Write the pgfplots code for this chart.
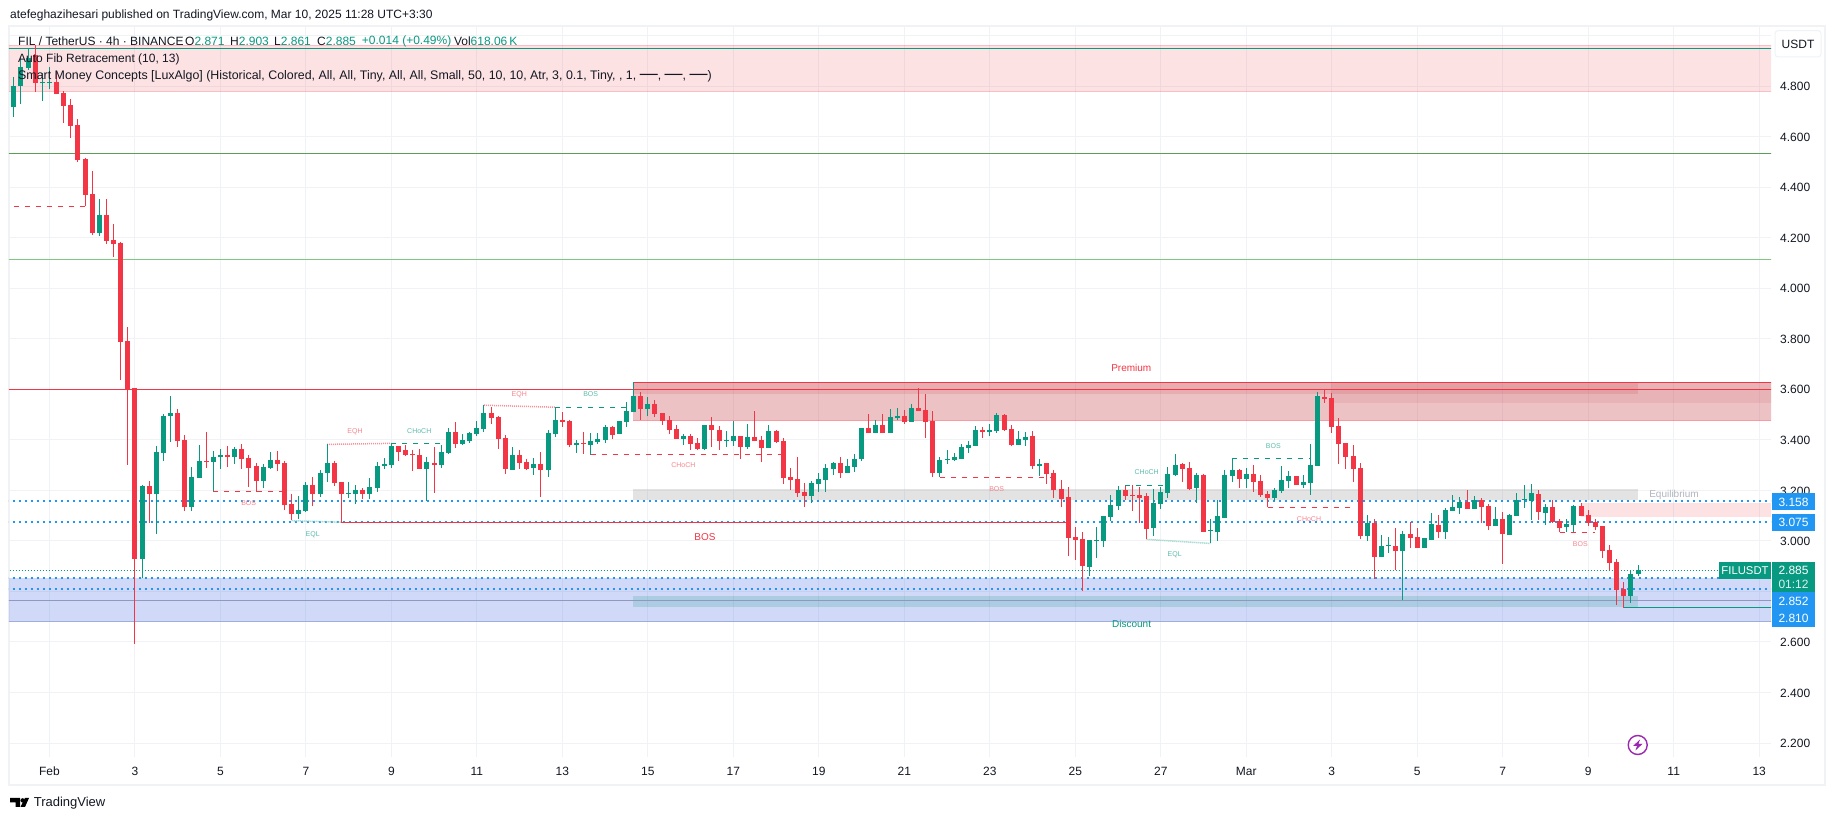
\documentclass[border=0pt]{standalone}
\usepackage{fontspec}
\setmainfont{Liberation Sans}
\usepackage{pgfplots}
\usepackage{pgfplotstable}
\pgfplotsset{compat=1.18}

\definecolor{tvgreen}{HTML}{089981}
\definecolor{tvred}{HTML}{F23645}
\definecolor{tvblue}{HTML}{2196F3}
\definecolor{tvink}{HTML}{131722}
\definecolor{gridc}{HTML}{F0F2F5}
\definecolor{zonered}{HTML}{C53740}
\definecolor{zoneblue}{HTML}{2850E0}

% n open high low close; n counts 4h candles from Feb 1
\pgfplotstableread{
n o h l c
-5 4.718 4.834 4.679 4.800
-4 4.800 4.910 4.729 4.877
-3 4.873 4.945 4.864 4.910
-1 4.811 4.850 4.742 4.815
0 4.811 4.874 4.787 4.815
7 4.220 4.353 4.208 4.290
13 2.928 3.221 2.852 3.217
15 3.186 3.376 3.029 3.352
16 3.349 3.502 3.318 3.494
17 3.494 3.574 3.393 3.506
20 3.134 3.292 3.118 3.253
21 3.249 3.380 3.249 3.316
23 3.312 3.356 3.196 3.332
24 3.332 3.364 3.285 3.340
26 3.332 3.372 3.304 3.364
30 3.237 3.304 3.209 3.292
31 3.289 3.352 3.285 3.320
35 3.106 3.178 3.087 3.122
36 3.118 3.233 3.114 3.221
38 3.186 3.281 3.174 3.269
39 3.269 3.384 3.233 3.308
42 3.186 3.233 3.170 3.190
43 3.186 3.221 3.146 3.201
45 3.186 3.249 3.166 3.213
46 3.209 3.312 3.194 3.296
47 3.296 3.328 3.285 3.304
48 3.300 3.386 3.289 3.376
53 3.285 3.332 3.158 3.312
55 3.300 3.380 3.289 3.352
56 3.348 3.447 3.344 3.431
58 3.384 3.423 3.380 3.399
59 3.395 3.431 3.387 3.427
60 3.423 3.475 3.415 3.447
61 3.443 3.538 3.431 3.506
65 3.281 3.372 3.281 3.340
68 3.289 3.328 3.261 3.304
70 3.281 3.439 3.253 3.427
71 3.423 3.530 3.411 3.478
74 3.380 3.399 3.348 3.387
76 3.380 3.427 3.341 3.395
77 3.391 3.427 3.384 3.403
78 3.399 3.459 3.387 3.451
80 3.423 3.475 3.423 3.475
81 3.471 3.550 3.451 3.514
82 3.510 3.629 3.510 3.574
84 3.522 3.570 3.494 3.542
89 3.403 3.423 3.380 3.415
92 3.364 3.459 3.360 3.459
95 3.395 3.435 3.372 3.399
96 3.395 3.475 3.376 3.415
98 3.372 3.463 3.364 3.411
101 3.368 3.459 3.368 3.435
107 3.178 3.237 3.150 3.229
108 3.225 3.269 3.194 3.245
109 3.241 3.304 3.194 3.289
110 3.285 3.312 3.261 3.308
112 3.269 3.324 3.269 3.296
113 3.292 3.344 3.273 3.324
114 3.324 3.447 3.316 3.447
116 3.427 3.478 3.427 3.459
118 3.427 3.522 3.427 3.490
119 3.486 3.526 3.478 3.494
121 3.471 3.542 3.471 3.526
125 3.269 3.332 3.253 3.320
126 3.320 3.360 3.304 3.324
127 3.320 3.348 3.316 3.332
128 3.324 3.384 3.324 3.372
129 3.368 3.395 3.348 3.380
130 3.376 3.455 3.376 3.439
132 3.431 3.463 3.415 3.439
133 3.435 3.506 3.427 3.498
136 3.380 3.435 3.380 3.403
137 3.399 3.431 3.376 3.411
139 3.296 3.324 3.257 3.304
146 2.897 3.004 2.861 3.004
147 3.000 3.055 2.932 3.004
148 3.000 3.099 2.976 3.099
149 3.095 3.182 3.079 3.142
150 3.138 3.217 3.122 3.201
155 3.051 3.205 3.019 3.150
156 3.146 3.213 3.126 3.194
157 3.190 3.292 3.170 3.265
158 3.261 3.344 3.257 3.300
161 3.209 3.269 3.150 3.261
163 3.039 3.087 2.990 3.043
164 3.035 3.162 3.000 3.099
165 3.091 3.281 3.091 3.261
166 3.257 3.327 3.233 3.281
168 3.245 3.289 3.209 3.265
172 3.170 3.209 3.158 3.201
173 3.197 3.296 3.190 3.241
174 3.237 3.277 3.209 3.257
176 3.221 3.261 3.209 3.233
177 3.229 3.384 3.182 3.300
178 3.296 3.589 3.296 3.574
185 3.019 3.103 3.000 3.071
187 2.936 3.023 2.936 2.980
188 2.980 3.015 2.952 2.984
190 2.960 3.039 2.766 3.027
193 2.972 3.012 2.972 3.012
194 3.004 3.110 3.004 3.067
196 3.035 3.130 3.008 3.122
197 3.118 3.182 3.118 3.134
198 3.130 3.174 3.106 3.154
200 3.126 3.178 3.126 3.162
203 3.059 3.134 3.059 3.087
205 3.023 3.106 3.023 3.103
206 3.099 3.190 3.099 3.162
207 3.162 3.221 3.130 3.166
208 3.158 3.225 3.083 3.190
210 3.110 3.146 3.063 3.134
213 3.055 3.087 3.035 3.067
214 3.063 3.142 3.034 3.138
222 2.782 2.885 2.754 2.869
223 2.871 2.905 2.861 2.885
}\upcandles

\pgfplotstableread{
n o h l c
-2 4.923 4.962 4.778 4.811
1 4.817 4.860 4.767 4.769
2 4.772 4.780 4.655 4.722
3 4.725 4.749 4.596 4.643
4 4.646 4.670 4.501 4.507
5 4.511 4.514 4.325 4.369
6 4.373 4.464 4.210 4.220
8 4.290 4.353 4.175 4.188
9 4.191 4.254 4.125 4.175
10 4.179 4.184 3.637 3.788
11 3.791 3.847 3.300 3.600
12 3.605 3.605 2.593 2.928
14 3.217 3.237 3.070 3.186
18 3.506 3.522 3.372 3.395
19 3.399 3.419 3.118 3.134
22 3.316 3.431 3.289 3.312
25 3.340 3.376 3.293 3.332
27 3.364 3.384 3.285 3.324
28 3.328 3.340 3.213 3.289
29 3.296 3.308 3.194 3.237
32 3.320 3.356 3.277 3.304
33 3.308 3.316 3.122 3.142
34 3.146 3.186 3.083 3.106
37 3.221 3.253 3.138 3.186
40 3.308 3.316 3.217 3.229
41 3.233 3.233 3.075 3.186
44 3.201 3.209 3.166 3.186
49 3.376 3.376 3.316 3.352
50 3.360 3.380 3.336 3.340
51 3.344 3.360 3.277 3.340
52 3.340 3.364 3.285 3.285
54 3.308 3.372 3.190 3.300
57 3.431 3.471 3.368 3.384
62 3.506 3.530 3.463 3.486
63 3.490 3.494 3.364 3.403
64 3.407 3.419 3.265 3.285
66 3.340 3.360 3.285 3.308
67 3.312 3.324 3.281 3.285
69 3.304 3.352 3.174 3.281
72 3.478 3.510 3.451 3.471
73 3.475 3.478 3.372 3.380
75 3.387 3.431 3.344 3.384
79 3.451 3.455 3.403 3.419
83 3.574 3.589 3.479 3.522
85 3.542 3.558 3.490 3.502
86 3.506 3.506 3.459 3.475
87 3.478 3.494 3.423 3.439
88 3.443 3.459 3.403 3.403
90 3.415 3.423 3.360 3.384
91 3.387 3.407 3.360 3.364
93 3.459 3.490 3.372 3.439
94 3.439 3.455 3.360 3.395
97 3.415 3.415 3.324 3.372
99 3.411 3.514 3.395 3.395
100 3.399 3.415 3.312 3.368
102 3.435 3.439 3.387 3.391
103 3.395 3.407 3.225 3.249
104 3.253 3.289 3.201 3.241
105 3.245 3.332 3.174 3.190
106 3.194 3.229 3.134 3.178
111 3.308 3.332 3.249 3.269
115 3.447 3.502 3.427 3.427
117 3.459 3.502 3.427 3.427
120 3.494 3.518 3.463 3.471
122 3.526 3.605 3.514 3.514
123 3.518 3.581 3.407 3.471
124 3.475 3.514 3.253 3.269
131 3.439 3.451 3.407 3.431
134 3.498 3.502 3.435 3.439
135 3.443 3.459 3.376 3.380
138 3.415 3.435 3.285 3.296
140 3.308 3.308 3.225 3.265
141 3.269 3.281 3.170 3.201
142 3.205 3.241 3.134 3.166
143 3.174 3.213 2.940 3.012
144 3.015 3.055 2.924 3.004
145 3.008 3.035 2.802 2.901
151 3.201 3.217 3.162 3.178
152 3.182 3.221 3.118 3.178
153 3.182 3.213 3.072 3.170
154 3.178 3.190 3.008 3.047
159 3.304 3.308 3.233 3.285
160 3.289 3.312 3.201 3.205
162 3.261 3.265 3.035 3.035
167 3.281 3.285 3.209 3.245
169 3.265 3.300 3.194 3.233
170 3.237 3.261 3.174 3.182
171 3.186 3.197 3.134 3.170
175 3.257 3.257 3.221 3.221
179 3.570 3.601 3.546 3.562
180 3.566 3.585 3.427 3.451
181 3.455 3.486 3.304 3.384
182 3.388 3.388 3.285 3.332
183 3.336 3.380 3.233 3.285
184 3.289 3.308 3.008 3.019
186 3.071 3.087 2.849 2.936
189 2.980 3.051 2.885 2.960
191 3.027 3.075 2.972 3.012
192 3.015 3.050 2.972 2.972
195 3.063 3.103 3.012 3.035
199 3.154 3.201 3.126 3.126
201 3.162 3.170 3.071 3.134
202 3.138 3.146 3.043 3.059
204 3.087 3.114 2.909 3.027
209 3.186 3.201 3.083 3.114
211 3.134 3.162 3.071 3.075
212 3.079 3.087 3.035 3.051
215 3.138 3.150 3.099 3.099
216 3.103 3.122 3.059 3.071
217 3.075 3.087 3.043 3.055
218 3.059 3.059 2.932 2.960
219 2.964 2.984 2.885 2.913
220 2.917 2.928 2.746 2.806
221 2.810 2.837 2.734 2.782
}\downcandles

\begin{document}
\begin{tikzpicture}
\useasboundingbox (0,0) rectangle (1835pt,821pt);
\fill[white] (0,0) rectangle (1835pt,821pt);
\draw[gridc, line width=2pt] (8.5pt,795pt) rectangle (1825pt,36pt);

\begin{axis}[
    name=chart,
    at={(9pt,64pt)}, anchor=south west,
    scale only axis,
    width=1762pt, height=731pt,
    xmin=-5.671, xmax=241.66,
    ymin=2.1449, ymax=5.0377,
    axis line style={draw=none},
    tick style={draw=none},
    grid=major,
    grid style={draw=gridc, line width=1pt},
    xtick={0,12,...,240},
    xticklabels={Feb,3,5,7,9,11,13,15,17,19,21,23,25,27,Mar,3,5,7,9,11,13},
    xticklabel style={font=\fontsize{12}{14}\selectfont, text=tvink, anchor=center, yshift=-14.7pt},
    ytick={2.2,2.4,...,5.01},
    yticklabels={2.200,2.400,2.600,2.800,3.000,3.200,3.400,3.600,3.800,4.000,4.200,4.400,4.600,4.800,},
    ytick pos=right,
    yticklabel pos=right,
    yticklabel style={font=\fontsize{12}{14}\selectfont, text=tvink, anchor=west, inner sep=0pt, xshift=9pt, yshift=-0.5pt},
]
% zones
\addplot[draw=none, fill=tvred, fill opacity=.14] coordinates {(-6,4.778)(242,4.778)(242,4.962)(-6,4.962)} -- cycle;
\addplot[draw=none, fill=zonered, fill opacity=.30] coordinates {(81.92,3.477)(242,3.477)(242,3.626)(81.92,3.626)} -- cycle;
\addplot[draw=none, fill=zonered, fill opacity=.10] coordinates {(179.9,3.547)(242,3.547)(242,3.626)(179.9,3.626)} -- cycle;
\addplot[draw=none, fill=zonered, fill opacity=.15] coordinates {(81.92,3.581)(223,3.581)(223,3.626)(81.92,3.626)} -- cycle;
\addplot[draw=none, fill=zoneblue, fill opacity=.21] coordinates {(-6,2.680)(242,2.680)(242,2.853)(-6,2.853)} -- cycle;
\addplot[draw=none, fill=tvgreen, fill opacity=.19] coordinates {(81.92,2.738)(223,2.738)(223,2.782)(81.92,2.782)} -- cycle;
\addplot[draw=none, fill=gray, fill opacity=.22] coordinates {(81.92,3.162)(223,3.162)(223,3.204)(81.92,3.204)} -- cycle;
\addplot[draw=none, fill=tvred, fill opacity=.14] coordinates {(215,3.096)(242,3.096)(242,3.149)(215,3.149)} -- cycle;
% zone edges
\addplot[tvred, opacity=.2, line width=1pt] coordinates {(-6,4.778)(242,4.778)};
\addplot[tvred, opacity=.2, line width=1pt] coordinates {(-6,4.962)(242,4.962)};
\addplot[tvred, opacity=.5, line width=1pt] coordinates {(81.92,3.477)(242,3.477)};
\addplot[tvred, line width=1pt] coordinates {(81.92,3.626)(242,3.626)};
\addplot[color={rgb,255:red,160;green,174;blue,220}, line width=1pt] coordinates {(-6,2.680)(242,2.680)};
\addplot[color={rgb,255:red,143;green,152;blue,192}, line width=1pt] coordinates {(-6,2.765)(242,2.765)};
% fib levels
\addplot[tvgreen, line width=1pt] coordinates {(-6,4.949)(242,4.949)};
\addplot[color={rgb,255:red,90;green,158;blue,90}, line width=1pt] coordinates {(-6,4.534)(242,4.534)};
\addplot[color={rgb,255:red,129;green,199;blue,132}, line width=1pt] coordinates {(-6,4.114)(242,4.114)};
\addplot[tvred, line width=1pt] coordinates {(-6,3.600)(242,3.600)};
% pivots
\addplot[tvblue, line width=2pt, dash pattern=on 2pt off 4pt] coordinates {(-6,3.158)(242,3.158)};
\addplot[tvblue, line width=2pt, dash pattern=on 2pt off 4pt] coordinates {(-6,3.075)(242,3.075)};
\addplot[tvblue, line width=2pt, dash pattern=on 2pt off 4pt] coordinates {(-6,2.853)(242,2.853)};
\addplot[tvblue, line width=2pt, dash pattern=on 2pt off 4pt] coordinates {(-6,2.810)(242,2.810)};
\addplot[tvgreen, line width=1pt, dash pattern=on 1pt off 2pt] coordinates {(-6,2.884)(242,2.884)};
% structure lines
\addplot[tvred, line width=1pt, dash pattern=on 5pt off 6pt] coordinates {(-5,4.324)(5,4.324)};
\addplot[tvred, line width=1pt, dash pattern=on 5pt off 6pt] coordinates {(23,3.196)(33,3.196)};
\addplot[tvred, line width=1pt] coordinates {(41,3.073)(143,3.073)};
\addplot[tvred!55, line width=1.5pt, dash pattern=on 1pt off 1pt] coordinates {(39,3.382)(48,3.386)};
\addplot[tvgreen, line width=1pt, dash pattern=on 5pt off 6pt] coordinates {(48,3.386)(55,3.386)};
\addplot[tvgreen!50, line width=1.5pt, dash pattern=on 1pt off 1pt] coordinates {(34,3.080)(41,3.074)};
\addplot[tvred!55, line width=1.5pt, dash pattern=on 1pt off 1pt] coordinates {(61,3.537)(71,3.529)};
\addplot[tvgreen, line width=1pt, dash pattern=on 5pt off 6pt] coordinates {(71,3.529)(81,3.529)};
\addplot[tvred, line width=1pt, dash pattern=on 5pt off 6pt] coordinates {(76,3.343)(103,3.343)};
\addplot[tvred, line width=1pt, dash pattern=on 5pt off 6pt] coordinates {(125,3.252)(141,3.252)};
\addplot[tvgreen, line width=1pt, dash pattern=on 5pt off 6pt] coordinates {(151,3.220)(157,3.220)};
\addplot[tvgreen!50, line width=1.5pt, dash pattern=on 1pt off 1pt] coordinates {(154,3.006)(163,2.990)};
\addplot[tvgreen, line width=1pt, dash pattern=on 5pt off 6pt] coordinates {(166,3.327)(177,3.327)};
\addplot[tvred, line width=1pt, dash pattern=on 5pt off 6pt] coordinates {(171,3.134)(183,3.134)};
\addplot[tvred, line width=1pt, dash pattern=on 5pt off 6pt] coordinates {(212,3.034)(217,3.034)};
\addplot[tvgreen, line width=1pt] coordinates {(220.9,2.737)(242,2.737)};
% candles: wicks, then bodies
\addplot[draw=none, mark=none, error bars/.cd, y dir=plus, y explicit, error mark=none,
    error bar style={draw=tvgreen, line width=1pt}]
    table[x=n, y=l, y error expr=\thisrow{h}-\thisrow{l}] {\upcandles};
\addplot[draw=none, mark=none, error bars/.cd, y dir=plus, y explicit, error mark=none,
    error bar style={draw=tvred, line width=1pt}]
    table[x=n, y=l, y error expr=\thisrow{h}-\thisrow{l}] {\downcandles};
\addplot[draw=none, mark=none, error bars/.cd, y dir=plus, y explicit, error mark=none,
    error bar style={draw=tvgreen, line width=5pt}]
    table[x=n, y=o, y error expr=\thisrow{c}-\thisrow{o}] {\upcandles};
\addplot[draw=none, mark=none, error bars/.cd, y dir=plus, y explicit, error mark=none,
    error bar style={draw=tvred, line width=5pt}]
    table[x=n, y=c, y error expr=\thisrow{o}-\thisrow{c}] {\downcandles};
\end{axis}

% everything below in reference pixels, y going down
\begin{scope}[shift={(0,821pt)}, x=1pt, y=-1pt, every node/.style={inner sep=0pt, font=\fontsize{12}{14}\selectfont, text=tvink}]
\node[anchor=west] at (10,15) {atefeghazihesari published on TradingView.com, Mar 10, 2025 11:28 UTC+3:30};
\node[anchor=west] at (18,41.7) {FIL / TetherUS · 4h · BINANCE};
\node[anchor=west] at (185,41.7) {O\textcolor{tvgreen}{2.871}};
\node[anchor=west] at (230,41.7) {H\textcolor{tvgreen}{2.903}};
\node[anchor=west] at (274,41.7) {L\textcolor{tvgreen}{2.861}};
\node[anchor=west] at (317,41.7) {C\textcolor{tvgreen}{2.885}};
\node[anchor=west, text=tvgreen] at (361.7,41.7) {+0.014 (+0.49\%)};
\node[anchor=west] at (453.8,41.7) {Vol\textcolor{tvgreen}{618.06\,K}};
\node[anchor=west] at (18,59) {Auto Fib Retracement (10, 13)};
\node[anchor=west, font=\fontsize{12.4}{14}\selectfont] at (18,76) {Smart Money Concepts [LuxAlgo] (Historical, Colored, All, All, Tiny, All, All, Small, 50, 10, 10, Atr, 3, 0.1, Tiny, , 1, {\fontsize{18}{14}\selectfont —}, {\fontsize{18}{14}\selectfont —}, {\fontsize{18}{14}\selectfont —})};

% smart money labels
\begin{scope}[every node/.append style={font=\fontsize{7}{8}\selectfont}]
\node[text=tvred!60] at (248.7,503.3) {BOS};
\node[text=tvgreen!65] at (312.7,534.7) {EQL};
\node[text=tvred!60] at (355,431.3) {EQH};
\node[text=tvgreen!65] at (419.3,431.3) {CHoCH};
\node[text=tvred!60] at (519.3,394.3) {EQH};
\node[text=tvgreen!65] at (590.7,394.3) {BOS};
\node[text=tvred!60] at (683.3,465.3) {CHoCH};
\node[text=tvred!60] at (996.7,489.3) {BOS};
\node[text=tvgreen!65] at (1146.7,472.3) {CHoCH};
\node[text=tvgreen!65] at (1174.7,554.7) {EQL};
\node[text=tvgreen!65] at (1273.3,446.3) {BOS};
\node[text=tvred!60] at (1309,518.7) {CHoCH};
\node[text=tvred!60] at (1580.3,544.3) {BOS};
\end{scope}
\begin{scope}[every node/.append style={font=\fontsize{10}{12}\selectfont}]
\node[text=tvred] at (705,537.3) {BOS};
\node[text=tvred] at (1131.3,367.7) {Premium};
\node[text=tvgreen] at (1131.6,623.8) {Discount};
\node[text={rgb,255:red,178;green,181;blue,190}] at (1674,494.7) {Equilibrium};
\end{scope}

% price axis
\draw[gridc, fill=white, rounded corners=3pt, line width=1pt] (1775,30.7) rectangle (1821,57);
\node at (1798,44) {USDT};
\fill[tvblue] (1772,493) rectangle (1815,509.7);
\node[text=white] at (1793.5,502) {3.158};
\fill[tvblue] (1772,514) rectangle (1815,531);
\node[text=white] at (1793.5,522.5) {3.075};
\fill[tvgreen] (1719.3,562) rectangle (1770.7,579);
\node[text=white, font=\fontsize{11.3}{14}\selectfont] at (1745,570.5) {FILUSDT};
\fill[tvgreen] (1772,562) rectangle (1815,592.3);
\node[text=white] at (1793.5,570.5) {2.885};
\node[text=white!85!tvgreen] at (1793.5,584.5) {01:12};
\fill[tvblue] (1772,592.3) rectangle (1815,627);
\node[text=white] at (1793.5,601) {2.852};
\node[text=white] at (1793.5,618.7) {2.810};

% bolt badge
\draw[color={rgb,255:red,156;green,39;blue,176}, line width=1.4pt] (1637.7,745) circle[radius=9.5];
\fill[color={rgb,255:red,156;green,39;blue,176}] (1640,739.5) -- (1633,746) -- (1637,746) -- (1635.4,750.5) -- (1642.4,744) -- (1638.4,744) -- cycle;

% logo
\fill[black] (10,798) -- (20,798) -- (20,807) -- (15.5,807) -- (15.5,802.5) -- (10,802.5) -- cycle;
\fill[black] (22.6,800.4) circle[radius=2.2];
\fill[black] (25,798) -- (29,798) -- (25,807) -- (20.5,807) -- cycle;
\node[anchor=west, font=\fontsize{13}{15}\selectfont] at (33.6,803) {TradingView};
\end{scope}
\end{tikzpicture}
\end{document}
